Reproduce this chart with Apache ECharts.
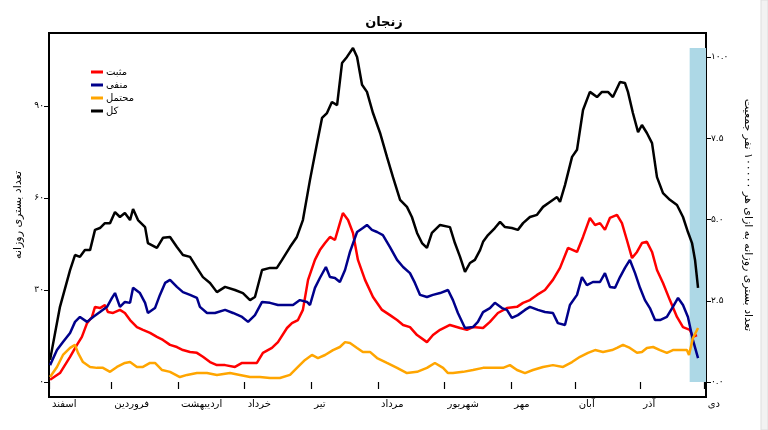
<!DOCTYPE html>
<html>
<head>
<meta charset="utf-8">
<script src="https://cdn.jsdelivr.net/npm/echarts@6/dist/echarts.min.js"></script>
<style>html,body{margin:0;padding:0;background:#fff;}#c{width:768px;height:430px;}</style>
</head>
<body>
<div id="c"></div>
<script>
// Month starts (day index from 1 Esfand) and names
const monthStarts = [0, 29, 60, 91, 122, 153, 184, 215, 245, 275, 305];
const monthNames = ['اسفند','فروردین','اردیبهشت','خرداد','تیر','مرداد','شهریور','مهر','آبان','آذر','دی'];
const leftTicks = [0, 30, 60, 90];
const leftTickLabels = ['۰','۳۰','۶۰','۹۰'];
const rightTicks = [0, 2.5, 5, 7.5, 10];
const rightTickLabels = ['۰.۰','۲.۵','۵.۰','۷.۵','۱۰.۰'];
const seriesNames = ['مثبت','منفی','محتمل','کل'];

// Total (کل)
const totalDays = [0.5,5.1,9.8,12.1,14.4,16.7,19.1,21.4,23.7,26.0,28.4,30.7,33.0,35.3,37.7,39.1,41.4,44.7,46.0,50.2,53.0,56.3,59.5,62.3,65.6,68.8,71.6,74.9,78.1,81.9,86.5,90.2,93.5,95.8,99.1,102.8,106.0,108.4,112.1,115.3,118.1,121.4,124.7,127.0,129.3,131.6,134.0,136.3,138.6,141.4,143.3,145.6,147.9,150.7,154.0,157.2,160.0,163.3,166.5,168.8,171.2,173.5,175.8,178.1,181.9,186.5,188.8,191.2,193.5,195.8,198.1,200.5,201.9,204.2,207.4,209.8,212.1,215.3,218.1,220.5,223.7,227.0,229.8,233.0,236.3,237.7,240.0,243.3,245.6,248.4,251.6,254.9,257.2,260.0,262.3,265.6,267.9,269.3,271.6,274.0,275.8,278.1,280.5,282.8,285.6,288.8,292.1,294.9,297.2,299.1,300.5,301.9];
const totalVals = [7.2,24.5,36.5,41.4,40.8,43.0,43.0,49.6,50.2,51.8,51.8,55.4,53.8,55.1,52.8,56.4,52.8,50.5,45.3,43.7,47.0,47.3,44.0,41.4,40.8,37.2,34.2,32.3,29.3,31.0,30.0,29.0,26.7,27.7,36.5,37.2,37.2,39.8,44.0,47.3,52.8,65.9,77.9,86.1,87.7,91.3,90.3,104.0,106.0,108.9,106.0,96.9,94.6,87.7,81.2,73.4,66.8,59.4,57.1,53.8,48.6,45.3,43.7,48.6,51.2,50.5,45.3,40.8,35.9,38.8,39.8,43.0,45.7,47.9,50.2,52.2,50.5,50.2,49.6,51.8,53.8,54.5,57.1,58.7,60.3,58.7,64.2,73.4,75.7,88.7,94.6,92.9,94.6,94.6,92.9,97.8,97.5,94.6,87.7,81.5,83.8,81.2,77.9,66.8,61.6,59.4,57.7,53.8,48.9,45.3,39.8,30.7];

// Positive (مثبت)
const posDays = [0.5,5.1,9.8,13.0,15.3,17.7,20.0,21.4,23.7,26.0,27.4,29.8,33.0,35.3,37.7,40.9,43.7,47.0,50.2,53.0,56.3,59.5,62.3,65.6,68.8,71.6,74.9,78.1,81.9,86.5,89.8,93.5,96.7,99.5,103.7,106.5,110.7,113.0,115.8,118.1,120.5,123.7,126.0,128.4,130.7,133.0,135.3,136.7,139.1,141.4,143.7,147.0,150.7,154.9,158.6,161.9,164.7,167.9,171.2,175.8,178.6,181.9,186.5,191.2,194.4,197.2,201.9,205.1,208.8,213.0,217.7,220.5,223.7,227.0,230.7,234.4,237.7,241.4,245.6,248.4,251.6,254.0,256.3,258.6,260.9,264.2,266.5,268.8,271.2,273.5,275.8,278.1,280.5,282.8,285.6,288.8,292.1,294.9,298.1,299.5,301.4];
const posVals = [0.7,2.9,8.2,12.1,14.7,19.2,21.2,24.5,24.1,25.1,22.8,22.5,23.5,22.5,20.2,17.9,17.0,16.0,14.7,13.7,12.1,11.4,10.4,9.8,9.5,8.2,6.5,5.5,5.5,4.9,6.2,6.2,6.2,9.5,11.1,13.0,17.6,19.2,20.2,23.5,33.3,39.8,43.0,45.3,47.3,46.3,51.8,55.1,52.8,48.6,39.8,33.3,27.7,23.5,21.8,20.2,18.6,17.9,15.3,13.0,15.3,17.0,18.6,17.6,17.0,17.9,17.6,19.6,22.5,24.1,24.5,25.8,26.7,28.4,30.0,33.3,37.2,43.7,42.4,47.3,53.5,51.2,51.8,49.6,53.5,54.5,51.8,46.3,40.4,42.4,45.3,45.7,42.4,36.5,32.3,26.7,21.2,17.9,17.0,14.7,15.3];

// Negative (منفی)
const negDays = [0.5,3.7,6.5,9.8,12.1,14.4,17.7,20.5,23.7,27.0,29.3,30.7,33.0,35.3,37.7,39.1,42.3,44.7,46.0,49.3,51.6,54.0,56.3,59.5,62.3,65.6,68.8,70.2,73.5,77.2,81.9,85.6,89.8,92.6,95.8,99.1,102.8,106.5,109.8,113.5,116.7,120.0,121.4,123.7,126.0,128.8,130.7,133.0,135.3,137.7,140.0,143.3,146.0,147.9,150.2,152.6,155.3,158.6,161.9,164.7,167.9,170.2,172.6,175.8,178.6,181.9,185.6,187.9,190.2,193.5,197.2,199.5,201.9,205.1,207.4,210.7,213.0,215.3,218.1,221.4,223.7,227.4,230.7,234.4,236.7,240.0,242.3,245.6,247.9,250.2,253.0,256.3,258.6,260.9,263.3,265.6,267.9,270.2,272.6,274.9,277.2,279.5,281.9,284.2,287.4,290.2,292.6,294.9,297.2,299.5,301.9];
const negVals = [5.5,10.4,13.0,16.0,19.6,21.2,19.6,21.2,22.8,24.5,27.4,29.0,24.5,26.1,25.8,30.7,29.0,25.8,22.5,24.1,28.4,32.3,33.3,31.0,29.3,28.4,27.4,24.5,22.5,22.5,23.5,22.5,21.2,19.6,21.8,26.1,25.8,25.1,25.1,25.1,26.7,26.1,25.1,30.7,33.9,37.5,34.2,33.9,32.6,36.5,42.4,48.9,50.2,51.2,49.6,48.9,47.9,44.0,39.8,37.5,35.5,32.3,28.4,27.7,28.4,29.0,30.0,26.7,22.5,17.6,17.9,19.6,22.8,24.1,25.8,24.1,23.5,20.9,21.8,23.5,24.5,23.5,22.8,22.5,19.2,18.6,25.1,28.4,34.2,31.6,32.6,32.6,35.5,31.0,30.7,34.2,37.2,39.8,35.5,30.7,26.7,24.1,20.2,20.2,21.2,24.5,27.4,25.1,21.2,13.7,7.8];

// Probable (محتمل)
const probDays = [0.5,3.7,6.5,9.8,12.1,13.5,15.8,19.1,22.3,25.1,28.4,31.6,35.3,37.7,40.9,43.7,47.0,49.3,52.6,56.3,60.9,64.2,68.8,73.5,78.1,84.2,88.8,93.5,98.1,102.8,107.4,112.1,115.8,119.1,122.3,125.1,128.4,132.1,135.3,137.7,140.0,143.3,146.0,149.3,152.6,157.2,161.9,166.5,171.2,175.8,179.5,183.3,185.6,187.9,192.6,197.2,201.9,206.5,211.2,214.4,217.7,221.4,225.1,229.8,234.4,239.1,243.3,247.0,250.7,254.0,257.7,261.9,264.2,267.0,270.2,273.5,275.8,278.1,281.0,284.2,287.4,290.2,293.5,296.7,297.7,299.5,301.9];
const probVals = [1.6,4.9,8.8,11.1,12.1,9.5,6.5,4.9,4.6,4.6,3.3,4.9,6.2,6.5,4.9,4.9,6.2,6.2,3.9,3.3,1.6,2.3,2.9,2.9,2.3,2.9,2.3,1.6,1.6,1.3,1.3,2.3,4.9,7.2,8.8,7.8,8.8,10.4,11.4,13.0,12.7,11.1,9.8,9.8,7.8,6.2,4.6,2.9,3.3,4.6,6.2,4.6,2.9,2.9,3.3,3.9,4.6,4.6,4.6,5.5,3.9,2.9,3.9,4.9,5.5,4.9,6.5,8.2,9.5,10.4,9.8,10.4,11.1,12.1,11.1,9.5,9.8,11.1,11.4,10.4,9.5,10.4,10.4,10.4,8.8,14.3,17.6];

// Highlighted (incomplete) period band
const bandStart = 298, bandEnd = 305.6, bandTop = 108.9;

const pair = (d, v) => d.map((x, i) => [x, v[i]]);
const FONT = 'DejaVu Sans';

const chart = echarts.init(document.getElementById('c'), null, {renderer: 'canvas'});
const lineSeries = (name, days, vals, color) => ({
  name, type: 'line', data: pair(days, vals), showSymbol: false, symbol: 'none',
  lineStyle: {color, width: 2.5}, itemStyle: {color}, z: 3, animation: false
});

chart.setOption({
  animation: false,
  title: {text: 'زنجان', left: 'center', top: 11,
    textStyle: {fontFamily: FONT, fontSize: 13, fontWeight: 'bold', color: '#000'}},
  legend: {
    data: seriesNames, orient: 'vertical', left: 86, top: 62, itemGap: 3,
    itemWidth: 12, itemHeight: 3, icon: 'rect',
    textStyle: {fontFamily: FONT, fontSize: 10, color: '#000', padding: [0,0,0,-2]}
  },
  grid: {left: 49, right: 62, top: 33, bottom: 33, show: true, borderColor: '#000', borderWidth: 2, containLabel: false},
  xAxis: {
    type: 'value', min: 0, max: 305.6,
    axisLine: {show: false}, splitLine: {show: false},
    axisTick: {show: true, customValues: monthStarts, length: 7, lineStyle: {color: '#000', width: 1.2}},
    axisLabel: {customValues: monthStarts, align: 'left', margin: 2, padding: [0,0,0,3],
      formatter: v => monthNames[monthStarts.indexOf(v)],
      fontFamily: FONT, fontSize: 10, color: '#000'}
  },
  yAxis: [
    {type: 'value', min: -4.9, max: 113.8, position: 'left',
      name: 'تعداد بستری روزانه', nameLocation: 'middle', nameRotate: 90, nameGap: 24,
      nameTextStyle: {fontFamily: FONT, fontSize: 11, color: '#000'},
      axisLine: {show: false}, splitLine: {show: false},
      axisTick: {show: true, customValues: leftTicks, length: 5, lineStyle: {color: '#000'}},
      axisLabel: {customValues: leftTicks, formatter: v => leftTickLabels[leftTicks.indexOf(v)],
        fontFamily: FONT, fontSize: 9, color: '#000', margin: 5}},
    {type: 'value', min: -0.46, max: 10.74, position: 'right',
      name: 'تعداد بستری روزانه به ازای هر ۱۰۰۰۰۰ نفر جمعیت', nameLocation: 'middle', nameRotate: -90, nameGap: 36,
      nameTextStyle: {fontFamily: FONT, fontSize: 11, color: '#000'},
      axisLine: {show: false}, splitLine: {show: false},
      axisTick: {show: true, customValues: rightTicks, length: 5, lineStyle: {color: '#000'}},
      axisLabel: {customValues: rightTicks, formatter: v => rightTickLabels[rightTicks.indexOf(v)],
        fontFamily: FONT, fontSize: 9, color: '#000', margin: 5}}
  ],
  series: [
    {name: 'band', type: 'line', data: [], z: 1, silent: true,
      markArea: {silent: true, itemStyle: {color: '#add8e6', opacity: 1},
        data: [[{xAxis: bandStart, yAxis: 0}, {xAxis: bandEnd, yAxis: bandTop}]]}},
    lineSeries(seriesNames[0], posDays, posVals, '#ff0000'),
    lineSeries(seriesNames[1], negDays, negVals, '#00008b'),
    lineSeries(seriesNames[2], probDays, probVals, '#ffa500'),
    lineSeries(seriesNames[3], totalDays, totalVals, '#000000')
  ],
  graphic: [
    {type: 'rect', shape: {x: 761, y: 0, width: 7, height: 430}, style: {fill: '#f2f2f2', stroke: '#dddddd', lineWidth: 1}, silent: true}
  ]
});
</script>
</body>
</html>
